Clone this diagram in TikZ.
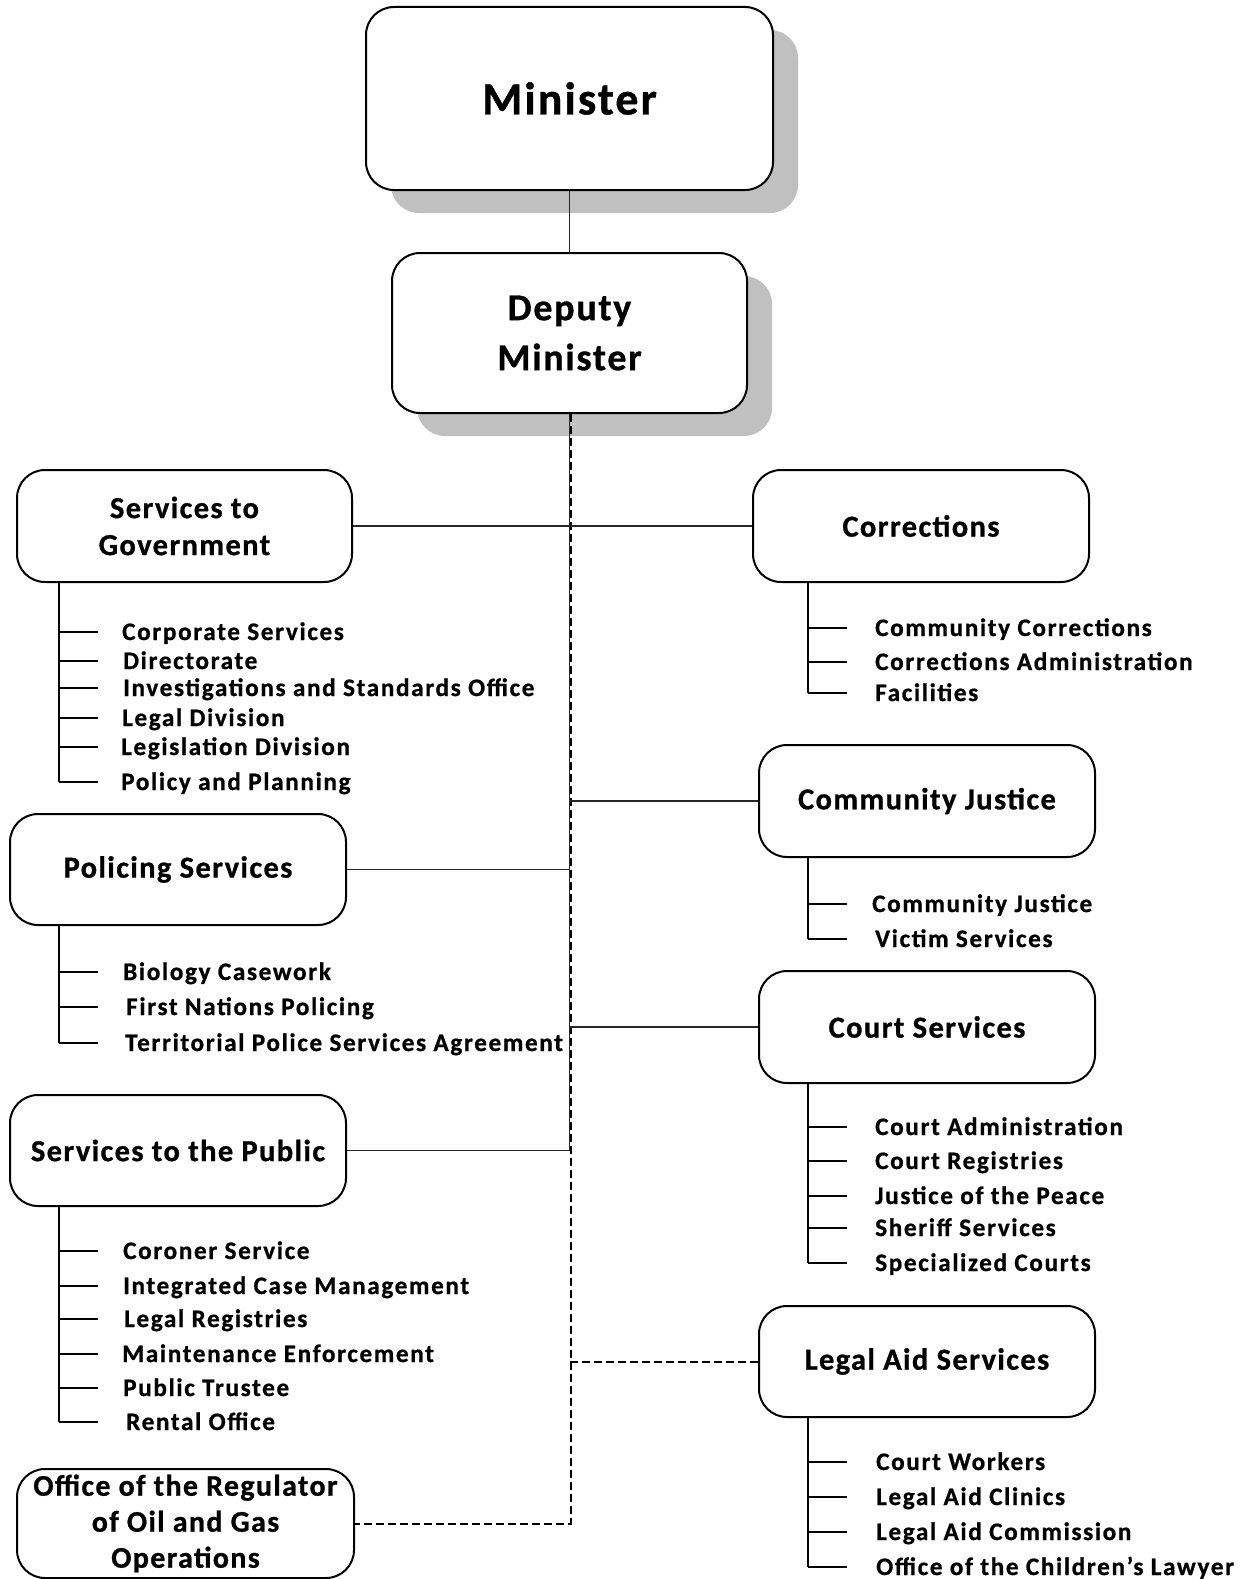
\documentclass[tikz,border=0pt]{standalone}
\usepackage{fontspec}
\setmainfont{Carlito}[LetterSpace=4.5, BoldFeatures={FakeBold=0.8}]
\usetikzlibrary{shadows}
\definecolor{shadowgray}{RGB}{192,192,192}
\begin{document}
\begin{tikzpicture}[x=1pt,y=-1pt,
  box/.style={draw=black, line width=2pt, rounded corners=28pt, fill=white, align=center, inner sep=0pt, font=\bfseries\fontsize{30.5}{37}\selectfont},
  shadowed/.style={drop shadow={shadow xshift=25pt, shadow yshift=-23pt, fill=shadowgray, opacity=1}},
  link/.style={line width=1.2pt, draw=black!85},
  dashlink/.style={line width=2pt, draw=black, dash pattern=on 8pt off 4pt},
  bracket/.style={line width=1.8pt, draw=black},
  tickline/.style={line width=1.5pt, draw=black},
  item/.style={anchor=base west, inner sep=0pt, font=\bfseries\fontsize{25.2}{29}\selectfont\addfontfeature{LetterSpace=6.5}}
]
\useasboundingbox (0,0) rectangle (1251,1579);

% top
\node[box, shadowed, minimum width=407pt, minimum height=183pt, font=\bfseries\fontsize{46}{53}\selectfont] (min) at (569.5,98.5) {Minister};
\node[box, shadowed, minimum width=355pt, minimum height=160pt, font=\bfseries\fontsize{38}{50}\selectfont] (dm) at (569.5,333) {Deputy\\Minister};

% left boxes
\node[box, minimum width=335pt, minimum height=112pt] (stg) at (184.5,526) {Services to\\Government};
\node[box, minimum width=336pt, minimum height=111pt] (pol) at (178,869.5) {Policing Services};
\node[box, minimum width=336pt, minimum height=111pt] (pub) at (178,1150.5) {Services to the Public};
\node[box, minimum width=337pt, minimum height=109pt, font=\bfseries\fontsize{30}{36}\selectfont] (org) at (185.5,1523.5) {Office of the Regulator\\of Oil and Gas\\Operations};

% right boxes
\node[box, minimum width=336pt, minimum height=112pt] (cor) at (921,526) {Corrections};
\node[box, minimum width=336pt, minimum height=112pt] (cj) at (927,801) {Community Justice};
\node[box, minimum width=336pt, minimum height=112pt] (crt) at (927,1027) {Court Services};
\node[box, minimum width=336pt, minimum height=111pt] (lgl) at (927,1361.5) {Legal Aid Services};

% connectors
\draw[link] (min.south) -- (dm.north);
\draw[link] (dm.south) -- (dm.south |- pub.east);
\draw[dashlink] ([xshift=1pt]dm.south) |- (org.east);
\draw[link] (stg.east) -- (cor.west);
\draw[link] (pol.east) -- (pol.east -| dm.south);
\draw[link] (pub.east) -- (pub.east -| dm.south);
\draw[link] (cj.west -| dm.south) -- (cj.west);
\draw[link] (crt.west -| dm.south) -- (crt.west);
\draw[dashlink] (lgl.west -| dm.south) -- (lgl.west);

% Services to Government list
\foreach \ty/\tx/\lab [count=\i] in {632/122/Corporate Services, 661/123/Directorate, 688/123/Investigations and Standards Office, 718/122/Legal Division, 747/121/Legislation Division, 782/121/Policy and Planning} {
  \coordinate (sgt\i) at (59,\ty);
  \node[item] (sg\i) at (\tx,\ty+8) {\lab};
  \draw[tickline] (sgt\i) -- ++(39,0);
}
\draw[bracket] (stg.south -| sgt1) -- (sgt6);

% Policing list
\foreach \ty/\tx/\lab [count=\i] in {972/123/Biology Casework, 1007/126/First Nations Policing, 1043/125/Territorial Police Services Agreement} {
  \coordinate (pt\i) at (59,\ty);
  \node[item] (p\i) at (\tx,\ty+8) {\lab};
  \draw[tickline] (pt\i) -- ++(39,0);
}
\draw[bracket] (pol.south -| pt1) -- (pt3);

% Public list
\foreach \ty/\tx/\lab [count=\i] in {1251/123/Coroner Service, 1286/123/Integrated Case Management, 1319/124/Legal Registries, 1354/122/Maintenance Enforcement, 1388/123/Public Trustee, 1422/126/Rental Office} {
  \coordinate (ut\i) at (59,\ty);
  \node[item] (u\i) at (\tx,\ty+8) {\lab};
  \draw[tickline] (ut\i) -- ++(39,0);
}
\draw[bracket] (pub.south -| ut1) -- (ut6);

% Corrections list
\foreach \ty/\tx/\lab [count=\i] in {628/875/Community Corrections, 662/875/Corrections Administration, 693/875/Facilities} {
  \coordinate (ct\i) at (808,\ty);
  \node[item] (c\i) at (\tx,\ty+8) {\lab};
  \draw[tickline] (ct\i) -- ++(39,0);
}
\draw[bracket] (cor.south -| ct1) -- (ct3);

% Community Justice list
\foreach \ty/\tx/\lab [count=\i] in {904/872/Community Justice, 939/875/Victim Services} {
  \coordinate (jt\i) at (808,\ty);
  \node[item] (j\i) at (\tx,\ty+8) {\lab};
  \draw[tickline] (jt\i) -- ++(39,0);
}
\draw[bracket] (cj.south -| jt1) -- (jt2);

% Court Services list
\foreach \ty/\tx/\lab [count=\i] in {1127/875/Court Administration, 1161/875/Court Registries, 1196/875/Justice of the Peace, 1228/875/Sheriff Services, 1263/875/Specialized Courts} {
  \coordinate (kt\i) at (808,\ty);
  \node[item] (k\i) at (\tx,\ty+8) {\lab};
  \draw[tickline] (kt\i) -- ++(39,0);
}
\draw[bracket] (crt.south -| kt1) -- (kt5);

% Legal Aid list
\foreach \ty/\tx/\lab [count=\i] in {1462/876/Court Workers, 1497/876/Legal Aid Clinics, 1532/876/Legal Aid Commission, 1567/876/Office of the Children’s Lawyer} {
  \coordinate (lt\i) at (808,\ty);
  \node[item] (l\i) at (\tx,\ty+8) {\lab};
  \draw[tickline] (lt\i) -- ++(39,0);
}
\draw[bracket] (lgl.south -| lt1) -- (lt4);
\end{tikzpicture}
\end{document}
